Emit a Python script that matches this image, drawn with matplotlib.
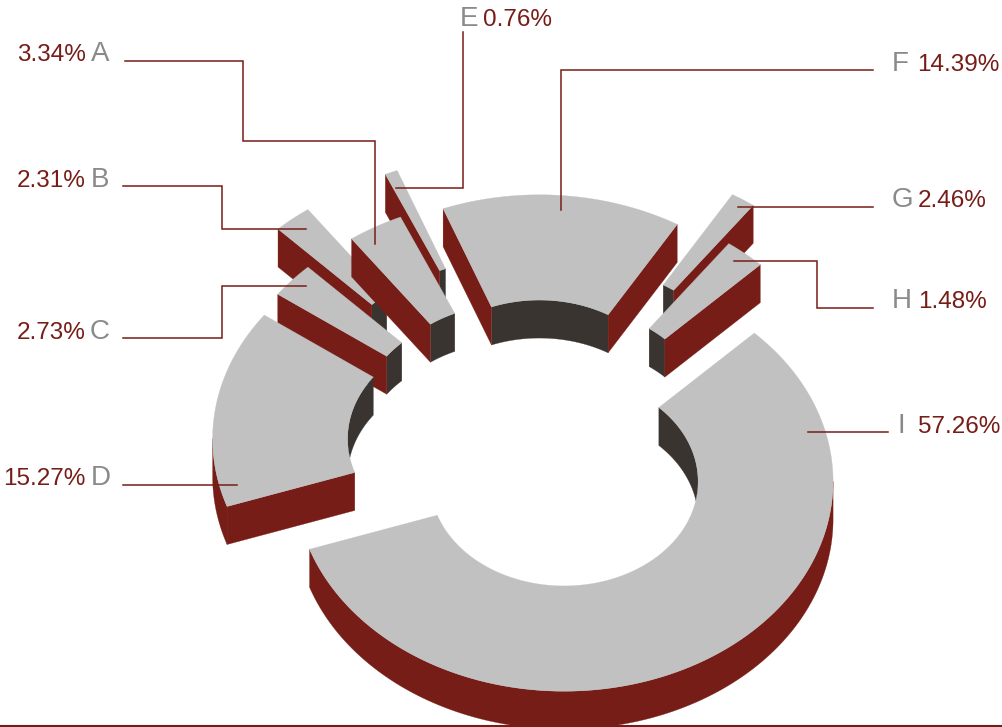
import numpy as np
import matplotlib
matplotlib.use('Agg')
import matplotlib.pyplot as plt
from matplotlib.patches import Polygon

plt.rcParams['font.family'] = ['Liberation Sans', 'DejaVu Sans']

# wedges clockwise, starting from the big one
names = ['I', 'D', 'C', 'B', 'A', 'E', 'F', 'G', 'H']
values = [57.26, 15.27, 2.73, 2.31, 3.34, 0.76, 14.39, 1.48, 2.46]  # G/H swapped in the original drawing
explode = [55, 54, 53, 109, 53, 109, 52, 108, 54]

# label, percent text, letter x, percent x, baseline y, percent alignment
label_names = ['A', 'B', 'C', 'D', 'E', 'F', 'G', 'H', 'I']
label_pcts = ['3.34%', '2.31%', '2.73%', '15.27%', '0.76%', '14.39%', '2.46%', '1.48%', '57.26%']
label_x = [91, 91, 90, 91, 460, 892, 892, 892, 898]
pct_x = [86, 86, 86, 86, 483, 917, 918, 918, 918]
label_y = [61, 187, 339, 485, 26, 71, 207, 308, 433]

leaders = [
    [(125, 60), (243, 60), (243, 140), (375, 140), (375, 243)],
    [(123, 185), (222, 185), (222, 228), (306, 228)],
    [(123, 337), (222, 337), (222, 285), (306, 285)],
    [(123, 484), (237, 484)],
    [(463, 31), (463, 187), (396, 187)],
    [(873, 69), (561, 69), (561, 209)],
    [(873, 206), (738, 206)],
    [(873, 307), (817, 307), (817, 260), (734, 260)],
    [(888, 431), (808, 431)],
]

TOP = '#c1c1c1'
RED = '#771d17'
DARK = '#3a3431'
GREY = '#8a8a8a'

hub_x, hub_y = 535, 445
r_out, r_in = 269, 134
squash = 0.78
depth = 38
start = 45.0


def arc(cx, cy, r, a0, a1):
    t = np.radians(np.linspace(a0, a1, max(int(abs(a1 - a0)) * 2, 2)))
    return np.column_stack([cx + r * np.cos(t), cy - r * squash * np.sin(t)])


def drop(pts):
    return pts + np.array([0, depth])


def wall(ax, cx, cy, r, a0, a1, color):
    pts = arc(cx, cy, r, a0, a1)
    ax.add_patch(Polygon(np.vstack([pts, drop(pts)[::-1]]), fc=color, ec=color, lw=0.2))


def visible_parts(a_lo, a_hi, front):
    # parts of the angle range that lie on the front (sin<0) or back (sin>0)
    parts = []
    k = np.floor(a_lo / 180.0)
    edges = [a_lo]
    while (k + 1) * 180 < a_hi:
        k += 1
        edges.append(k * 180)
    edges.append(a_hi)
    for a, b in zip(edges[:-1], edges[1:]):
        s = np.sin(np.radians((a + b) / 2))
        if (s < 0) == front:
            parts.append((a, b))
    return parts


def draw_slice(ax, cx, cy, a_lo, a_hi):
    for a, b in visible_parts(a_lo, a_hi, False):
        wall(ax, cx, cy, r_in, a, b, DARK)
    for ang, sign in ((a_hi, -1), (a_lo, 1)):
        if sign * np.cos(np.radians(ang)) > 0:
            p = np.vstack([arc(cx, cy, r_in, ang, ang)[:1], arc(cx, cy, r_out, ang, ang)[:1]])
            ax.add_patch(Polygon(np.vstack([p, drop(p)[::-1]]), fc=RED, ec=RED, lw=0.2))
    for a, b in visible_parts(a_lo, a_hi, True):
        wall(ax, cx, cy, r_out, a, b, RED)
    outer = arc(cx, cy, r_out, a_lo, a_hi)
    inner = arc(cx, cy, r_in, a_hi, a_lo)
    ax.add_patch(Polygon(np.vstack([outer, inner]), fc=TOP, ec=TOP, lw=0.2))


fig = plt.figure(figsize=(10.02, 7.27), dpi=100)
ax = fig.add_axes([0, 0, 1, 1])
ax.set_xlim(0, 1002)
ax.set_ylim(727, 0)
ax.axis('off')

# work out each wedge, then paint back to front
spans = np.array(values) * 3.6
wedges = []
hi = start
for v, e in zip(spans, explode):
    lo = hi - v
    mid = np.radians((lo + hi) / 2)
    cx = hub_x + e * np.cos(mid)
    cy = hub_y - e * squash * np.sin(mid)
    wedges.append((cy, cx, lo, hi))
    hi = lo

for cy, cx, lo, hi in sorted(wedges):
    draw_slice(ax, cx, cy, lo, hi)

for pts in leaders:
    xs, ys = zip(*pts)
    ax.plot(np.array(xs) + 0.5, np.array(ys) + 0.5, color=RED, lw=1.1,
            solid_joinstyle='miter', zorder=5)

for i in range(len(label_names)):
    ax.text(label_x[i], label_y[i], label_names[i], color=GREY, fontsize=20,
            ha='left', va='baseline', zorder=6)
    ha = 'right' if pct_x[i] < 100 else 'left'
    ax.text(pct_x[i], label_y[i], label_pcts[i], color=RED, fontsize=17.5,
            ha=ha, va='baseline', zorder=6)

ax.plot([0, 1002], [725.5, 725.5], color=RED, lw=1.5, zorder=5)

fig.savefig('out.png', dpi=100)
